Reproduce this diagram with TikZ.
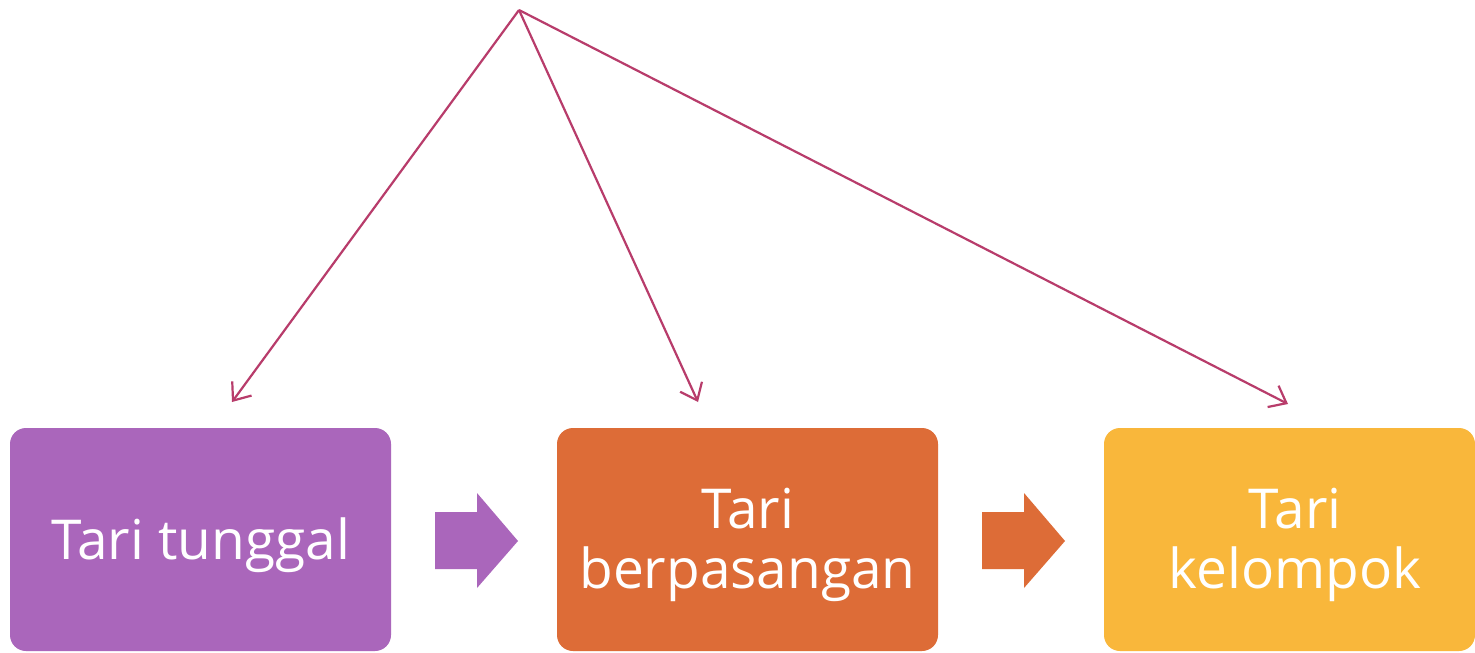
\documentclass[tikz,border=0pt]{standalone}
\usepackage{fontspec}
\setmainfont{Open Sans}
\usetikzlibrary{arrows.meta}
\definecolor{cpurple}{HTML}{AA66BB}
\definecolor{corange}{HTML}{DD6C37}
\definecolor{cyellow}{HTML}{F9B73B}
\definecolor{cline}{HTML}{B83C6B}
\tikzset{
  box/.style={rounded corners=16pt, minimum height=223pt, inner sep=0pt},
  lbl/.style={text=white, align=center, inner sep=0pt, font=\fontsize{55}{60}\selectfont},
  conn/.style={draw=cline, line width=2.2pt, -{Straight Barb[length=15pt,width=24pt,line width=2.2pt]}}
}
\begin{document}
\begin{tikzpicture}[x=1pt,y=-1pt]
\useasboundingbox (0,0) rectangle (1475,653);
\fill[white] (0,0) rectangle (1475,653);
\node[box, fill=cpurple, minimum width=381pt] (b1) at (200.5,539.5) {};
\node[box, fill=corange, minimum width=381pt] (b2) at (747.5,539.5) {};
\node[box, fill=cyellow, minimum width=371pt] (b3) at (1289.5,539.5) {};
\node[lbl, anchor=base] (t1) at (200.5,559) {Tari tunggal};
\node[lbl, anchor=base] (t2a) at (747.5,528) {Tari};
\node[lbl, anchor=base] (t2b) at (747.5,588) {berpasangan};
\node[lbl, anchor=base] (t3a) at (1295,528) {Tari};
\node[lbl, anchor=base] (t3b) at (1295,588) {kelompok};
\coordinate (apex) at (519,10);
\coordinate (e1) at (232,402);
\coordinate (e2) at (698,402);
\coordinate (e3) at (1288,404);
\draw[conn] (apex) -- (e1);
\draw[conn] (apex) -- (e2);
\draw[conn] (apex) -- (e3);
\fill[cpurple] (435,512) -- (477,512) -- (477,493) -- (518,541) -- (477,588) -- (477,569) -- (435,569) -- cycle;
\fill[corange] (982,512) -- (1024,512) -- (1024,493) -- (1065,541) -- (1024,588) -- (1024,569) -- (982,569) -- cycle;
\end{tikzpicture}
\end{document}
